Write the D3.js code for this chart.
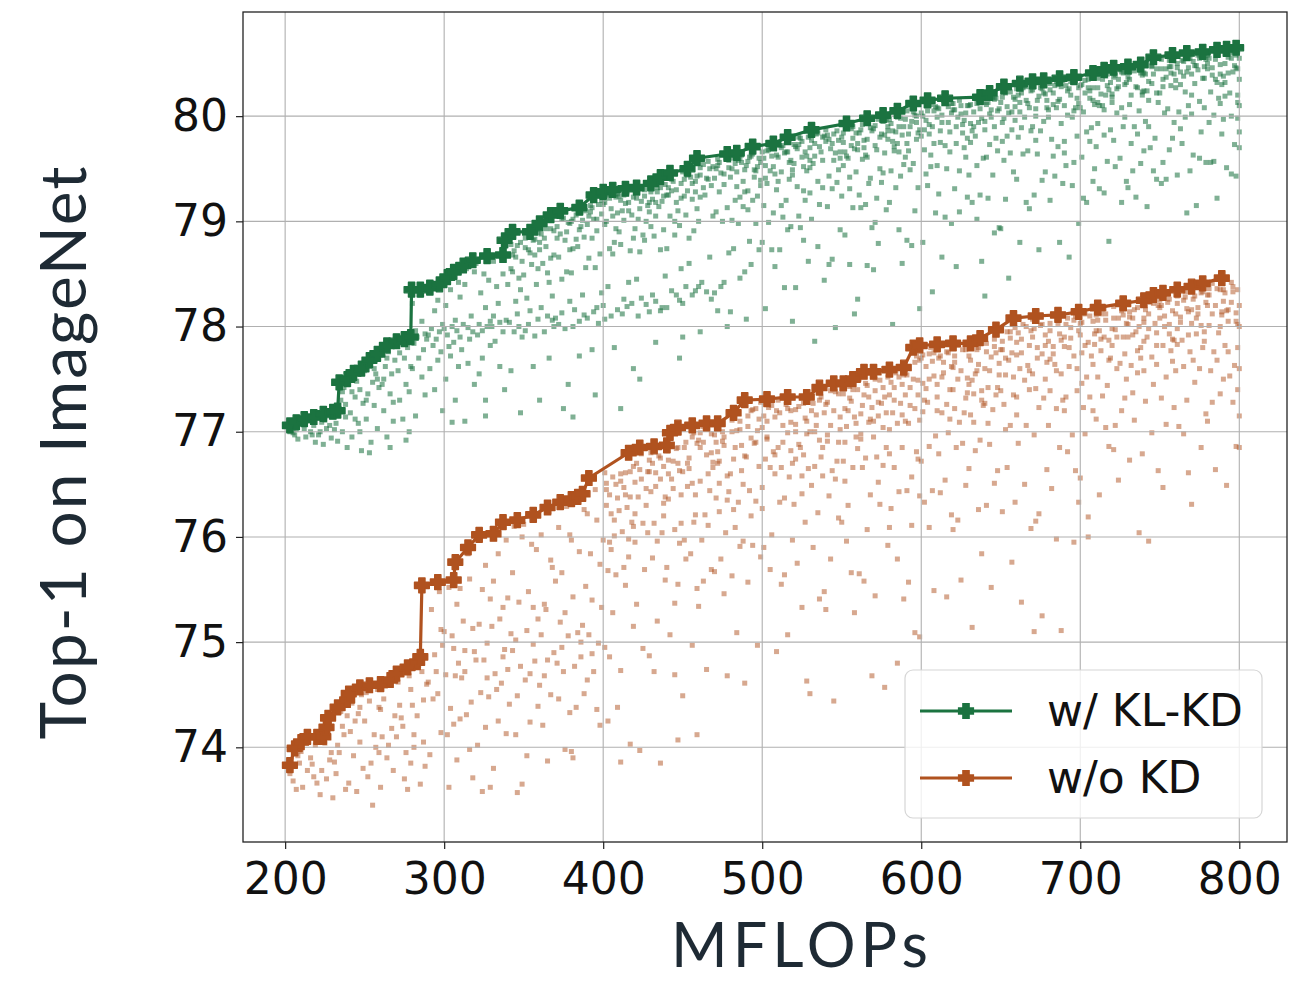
<!DOCTYPE html>
<html>
<head>
<meta charset="utf-8">
<script src="https://cdn.jsdelivr.net/npm/d3@7"></script>
<style>
  html, body { margin: 0; padding: 0; background: #ffffff; }
  svg { display: block; }
</style>
</head>
<body>
<svg id="chart" width="1300" height="981"></svg>
<script>
// ---- data -------------------------------------------------------------
const seriesNames = ["w/ KL-KD", "w/o KD"];
const xTicks = [200, 300, 400, 500, 600, 700, 800];
const yTicks = [74, 75, 76, 77, 78, 79, 80];
const xTitle = "MFLOPs";
const yTitle = "Top-1 on ImageNet";

// Pareto frontier, [MFLOPs, top-1]
const klkdFrontier = [
  [203,77.06],[207,77.09],[212,77.12],[218,77.14],[224,77.17],[230,77.19],[233,77.2],[234,77.47],[239,77.5],
  [243,77.56],[248,77.6],[253,77.68],[258,77.74],[264,77.82],[270,77.86],[275,77.88],[279,77.9],[279.5,78.35],
  [285,78.35],[291,78.37],[297,78.4],[302,78.47],[306,78.52],[312,78.58],[318,78.63],[327,78.67],[337,78.68],
  [338,78.82],[343,78.9],[354,78.9],[360,78.98],[367,79.06],[373,79.1],[385,79.13],[394,79.25],[400,79.28],
  [406,79.3],[414,79.31],[421,79.32],[430,79.36],[436,79.42],[442,79.46],[453,79.5],[459,79.6],[478,79.64],
  [484,79.65],[494,79.71],[507,79.74],[516,79.8],[531,79.87],[553,79.93],[566,79.98],[576,80.01],[585,80.05],
  [595,80.12],[604,80.15],[615,80.17],[637,80.18],[643,80.22],[652,80.28],[662,80.31],[670,80.33],[677,80.34],
  [687,80.36],[696,80.37],[708,80.41],[715,80.44],[721,80.46],[730,80.47],[738,80.49],[746,80.56],[758,80.58],
  [767,80.6],[777,80.61],[786,80.63],[792,80.64],[798,80.65]
];
const noKdFrontier = [
  [203,73.83],[206,73.99],[210,74.05],[214,74.1],[220,74.1],[224,74.1],[226,74.19],[227,74.28],[233,74.38],
  [239,74.45],[240,74.51],[247,74.57],[253,74.59],[260,74.6],[266,74.64],[270,74.7],[277,74.76],[283,74.81],
  [285,74.86],[286,75.54],[296,75.57],[306,75.59],[307,75.76],[315,75.9],[322,76.02],[331,76.03],[337,76.14],
  [346,76.16],[356,76.21],[365,76.28],[373,76.33],[380,76.36],[384,76.38],[387,76.41],[391,76.56],[416,76.8],
  [423,76.85],[432,76.86],[440,76.87],[442,76.99],[447,77.04],[456,77.06],[465,77.08],[472,77.08],[482,77.18],
  [489,77.3],[503,77.31],[516,77.33],[528,77.33],[536,77.42],[545,77.46],[551,77.46],[557,77.5],[564,77.57],
  [570,77.57],[580,77.59],[589,77.61],[595,77.8],[599,77.82],[610,77.83],[620,77.84],[631,77.84],[637,77.89],
  [647,77.97],[658,78.08],[672,78.1],[686,78.11],[699,78.14],[711,78.18],[727,78.22],[740,78.25],[746,78.3],
  [752,78.32],[761,78.35],[770,78.38],[777,78.41],[789,78.46]
];

// sampled sub-networks, [MFLOPs, top-1]
const klkdSamples = [
  [201,77.05],[203,77.0],[204,77.06],[206,76.97],[207,77.02],[208,76.93],[209,77.07],[205,76.99],
  [210,77.09],[212,77.03],[213,76.95],[215,77.1],[216,77.0],[218,77.06],[219,76.9],[214,77.12],[217,76.97],
  [220,77.13],[221,76.97],[223,77.09],[224,76.88],[226,77.03],[227,77.15],[229,76.94],[225,77.11],[228,77.06],[222,77.0],
  [230,77.17],[232,77.08],[233,76.91],[235,77.3],[236,77.0],[237,77.42],[238,77.14],[239,76.85],[234,77.22],[236,77.38],[231,77.02],[238,77.26],
  [240,77.45],[241,77.18],[242,76.95],[243,77.5],[244,77.33],[246,77.08],[247,77.4],[248,76.82],[249,77.27],[245,77.48],[247,77.0],[242,77.38],[244,77.12],
  [250,77.58],[251,77.12],[252,77.36],[253,77.62],[254,76.9],[255,77.47],[256,77.25],[257,77.55],[258,77.03],[259,77.42],[253,76.8],[256,77.6],[251,77.3],[258,77.5],
  [260,77.73],[261,77.45],[262,77.2],[263,77.62],[264,76.95],[265,77.76],[266,77.36],[267,77.55],[268,77.1],[269,77.68],[262,77.5],[266,76.85],[268,77.28],[264,77.7],
  [270,77.82],[271,77.58],[272,77.3],[273,77.86],[274,77.12],[275,77.7],[276,77.45],[277,77.8],[278,77.0],[279,77.62],[272,77.75],[276,76.92],[278,77.38],[274,77.84],
  [285,78.3],[280,78.22],[286,78.05],[282,77.96],[288,77.93],[283,77.9],[289,77.88],[281,77.84],[287,77.78],[284,77.7],[280,77.6],[286,77.52],[288,77.35],[282,77.15],
  [291,78.33],[296,78.25],[294,78.15],[299,78.02],[292,77.98],[297,77.95],[290,77.92],[295,77.88],[293,77.82],[298,77.76],[296,77.68],[291,77.6],[294,77.4],[299,77.2],
  [309,78.42],[304,78.35],[301,78.2],[307,78.06],[305,78.0],[300,77.98],[308,77.96],[302,77.92],[306,77.85],[303,77.81],[304,77.72],[309,77.62],[301,77.5],[307,77.3],[305,77.09],
  [314,78.55],[319,78.52],[313,78.4],[310,78.28],[317,78.1],[312,78.02],[315,77.99],[318,77.95],[310,77.9],[316,77.88],[311,77.78],[315,77.65],[319,77.45],[313,77.1],
  [320,78.6],[325,78.5],[328,78.44],[323,78.32],[326,78.18],[329,78.05],[322,78.02],[327,78.0],[324,77.96],[321,77.92],[329,77.82],[324,77.7],[322,77.55],[326,77.3],[326,77.15],
  [336,78.66],[331,78.62],[337,78.5],[338,78.78],[333,78.38],[334,78.22],[331,78.1],[339,78.06],[335,78.04],[330,78.0],[337,77.95],[332,77.86],[335,77.62],[338,77.4],
  [341,78.81],[346,78.77],[344,78.72],[349,78.62],[342,78.55],[347,78.46],[340,78.4],[345,78.24],[343,78.68],[348,78.35],[346,78.12],[341,78.04],[344,77.95],[349,77.9],[347,78.0],[342,77.58],[348,77.18],
  [359,78.89],[354,78.86],[351,78.75],[357,78.68],[355,78.59],[350,78.49],[358,78.4],[352,78.27],[356,78.82],[353,78.73],[354,78.15],[359,78.07],[351,77.96],[357,77.91],[353,78.02],[356,77.62],
  [364,78.93],[369,78.91],[363,78.84],[360,78.8],[367,78.65],[362,78.6],[365,78.51],[368,78.29],[360,78.73],[366,78.42],[361,78.18],[365,78.1],[369,78.0],[363,77.95],[368,78.06],[360,77.3],[366,77.7],
  [370,79.06],[375,79.03],[378,78.99],[373,78.88],[376,78.82],[379,78.73],[372,78.66],[377,78.52],[374,78.45],[371,78.84],[379,78.24],[374,78.13],[372,78.02],[376,77.98],[370,78.08],[378,77.45],[375,77.22],
  [386,79.08],[381,79.02],[387,79.01],[388,78.85],[383,78.83],[384,78.76],[381,78.74],[389,78.56],[385,78.92],[380,78.51],[387,78.3],[382,78.16],[385,78.05],[388,78.11],[381,78.0],[385,77.72],[381,77.14],
  [397,79.16],[392,79.15],[399,79.07],[394,79.02],[390,78.97],[396,78.91],[393,78.84],[398,78.69],[391,78.65],[395,78.56],[392,79.09],[399,78.32],[396,78.18],[390,78.08],[394,78.14],[397,78.03],[395,77.35],[393,77.78],
  [403,79.25],[408,79.23],[400,79.16],[405,79.12],[409,79.08],[401,78.97],[407,78.8],[404,78.74],[406,78.69],[402,79.0],[408,78.93],[403,78.38],[400,78.2],[405,78.1],[409,78.16],[401,78.07],[407,77.8],
  [415,79.28],[410,79.24],[416,79.18],[412,79.1],[418,79.06],[413,79.01],[419,78.84],[411,78.78],[417,78.72],[414,79.17],[410,78.9],[416,78.42],[418,78.22],[412,78.12],[415,78.19],[413,78.26],[411,77.22],[419,77.6],
  [421,79.28],[426,79.24],[424,79.19],[429,79.09],[422,79.02],[427,79.0],[420,78.93],[425,78.87],[423,78.71],[428,79.15],[426,78.82],[421,78.45],[424,78.27],[429,78.14],[427,78.21],[422,78.1],[423,77.5],
  [439,79.35],[434,79.32],[431,79.21],[437,79.19],[435,79.14],[430,78.95],[438,78.92],[432,78.86],[436,78.73],[433,79.05],[434,79.28],[439,78.48],[431,78.3],[437,78.18],[433,78.24],[436,78.15],[433,77.85],
  [444,79.38],[449,79.36],[443,79.29],[440,79.25],[447,79.1],[442,79.05],[445,79.0],[448,78.96],[440,78.74],[446,79.18],[441,79.32],[445,78.87],[449,78.55],[443,78.34],[448,78.25],[440,78.18],[446,78.3],[448,77.7],
  [450,79.47],[455,79.42],[458,79.38],[453,79.29],[456,79.21],[459,79.12],[452,79.06],[457,78.91],[454,78.84],[451,79.24],[459,79.43],[454,78.6],[452,78.38],[456,78.3],[450,78.22],[458,78.34],[450,77.9],
  [466,79.57],[461,79.51],[467,79.5],[468,79.34],[463,79.32],[464,79.25],[461,79.23],[469,79.05],[465,79.41],[460,79.0],[467,78.66],[462,78.42],[465,78.33],[468,78.26],[460,78.38],[461,77.95],
  [477,79.6],[472,79.59],[479,79.51],[474,79.46],[470,79.41],[476,79.35],[473,79.28],[478,79.13],[471,79.09],[475,79.0],[472,79.53],[479,78.7],[476,78.42],[470,78.32],[474,78.38],[478,78.0],[472,78.15],
  [487,79.63],[482,79.6],[489,79.49],[484,79.47],[480,79.42],[486,79.23],[483,79.2],[488,79.14],[481,79.01],[485,78.98],[482,78.74],[489,78.52],[486,78.46],[480,78.14],[484,79.33],[487,79.56],
  [493,79.62],[498,79.6],[490,79.53],[495,79.49],[499,79.34],[491,79.29],[497,79.24],[494,79.2],[496,78.98],[492,78.81],[498,78.73],[493,78.59],[490,78.07],[495,79.42],[499,79.56],[491,79.11],
  [505,79.71],[500,79.66],[506,79.62],[502,79.53],[508,79.45],[503,79.36],[509,79.3],[501,79.15],[507,79.08],[504,78.99],[500,78.8],[506,78.73],[508,78.57],[502,78.17],[505,79.48],[503,79.67],
  [511,79.72],[516,79.66],[514,79.65],[519,79.49],[512,79.47],[517,79.4],[510,79.38],[515,79.2],[513,79.04],[518,78.95],[516,78.92],[511,78.73],[514,78.37],[519,78.05],[517,79.56],[512,79.15],
  [529,79.8],[524,79.79],[521,79.71],[527,79.66],[525,79.61],[520,79.55],[528,79.48],[522,79.33],[526,79.29],[523,79.05],[524,78.94],[529,78.62],[521,78.37],[527,79.2],[523,79.73],[526,78.82],
  [534,79.83],[539,79.81],[533,79.74],[530,79.7],[537,79.66],[532,79.55],[535,79.38],[538,79.32],[530,79.27],[536,79.16],[531,79.02],[535,78.76],[539,78.44],[533,77.86],[538,79.58],[530,79.51],
  [540,79.87],[545,79.83],[548,79.77],[543,79.69],[546,79.65],[549,79.6],[542,79.43],[547,79.37],[544,79.31],[541,79.14],[549,78.92],[544,78.64],[542,78.59],[546,77.99],[540,79.76],[548,79.49],
  [556,79.88],[551,79.84],[557,79.79],[558,79.69],[553,79.62],[554,79.6],[551,79.53],[559,79.47],[555,79.31],[550,79.24],[557,79.13],[552,78.87],[555,78.59],[558,78.12],[551,79.75],[555,79.42],
  [567,79.93],[562,79.87],[569,79.86],[564,79.7],[560,79.68],[566,79.61],[563,79.59],[568,79.41],[561,79.25],[565,79.16],[562,79.13],[569,78.94],[566,78.58],[560,78.26],[564,79.77],[567,79.36],
  [573,79.97],[578,79.96],[570,79.88],[575,79.83],[579,79.78],[571,79.72],[577,79.65],[574,79.5],[576,79.46],[572,79.22],[578,79.11],[573,78.79],[570,78.54],[575,79.37],[579,79.9],[571,78.99],
  [585,79.99],[580,79.97],[586,79.9],[582,79.86],[588,79.82],[583,79.71],[589,79.54],[581,79.48],[587,79.43],[584,79.32],[580,79.18],[586,78.92],[588,78.6],[582,78.02],[585,79.74],[583,79.67],
  [591,80.05],[596,80.01],[594,79.95],[599,79.87],[592,79.83],[597,79.78],[590,79.61],[595,79.55],[593,79.49],[598,79.32],[596,79.1],[591,78.82],[594,78.77],[599,78.17],[597,79.94],[592,79.67],
  [609,80.09],[604,80.05],[601,80.0],[607,79.9],[605,79.83],[600,79.81],[608,79.74],[602,79.68],[606,79.52],[603,79.45],[604,79.34],[609,79.08],[601,78.8],[607,78.33],[603,79.96],[606,79.63],
  [614,80.15],[619,80.12],[613,80.01],[610,79.99],[617,79.94],[612,79.75],[615,79.72],[618,79.66],[610,79.53],[616,79.5],[611,79.26],[615,79.04],[619,78.98],[613,78.66],[618,79.85],[610,80.08],
  [620,80.12],[625,80.1],[628,80.03],[623,79.99],[626,79.84],[629,79.79],[622,79.74],[627,79.7],[624,79.48],[621,79.31],[629,79.23],[624,79.09],[622,78.57],[626,79.92],[620,80.06],[628,79.61],
  [636,80.16],[631,80.11],[637,80.07],[638,79.98],[633,79.9],[634,79.81],[631,79.75],[639,79.6],[635,79.53],[630,79.44],[637,79.25],[632,79.18],[635,79.02],[638,78.62],[631,79.93],[635,80.12],
  [647,80.17],[642,80.13],[649,80.07],[644,79.99],[640,79.95],[646,79.9],[643,79.73],[648,79.67],[641,79.61],[645,79.44],[642,79.22],[649,78.94],[646,78.89],[640,78.29],[644,80.06],[647,79.79],
  [653,80.22],[658,80.18],[650,80.13],[655,80.03],[659,79.96],[651,79.94],[657,79.87],[654,79.81],[656,79.65],[652,79.58],[658,79.47],[653,79.21],[650,78.93],[655,78.46],[659,80.09],[651,79.76],
  [665,80.29],[660,80.26],[666,80.15],[662,80.13],[668,80.08],[663,79.89],[669,79.86],[661,79.8],[667,79.67],[664,79.64],[660,79.4],[666,79.18],[668,79.12],[662,78.8],[665,79.99],[663,80.22],
  [671,80.28],[676,80.26],[674,80.19],[679,80.15],[672,80.0],[677,79.95],[670,79.9],[675,79.86],[673,79.64],[678,79.47],[676,79.39],[671,79.25],[674,78.73],[679,80.08],[677,80.22],[672,79.77],
  [689,80.34],[684,80.29],[681,80.25],[687,80.16],[685,80.08],[680,79.99],[688,79.93],[682,79.78],[686,79.71],[683,79.62],[684,79.43],[689,79.36],[681,79.2],[687,78.8],[683,80.11],[686,80.3],
  [694,80.33],[699,80.27],[693,80.26],[690,80.1],[697,80.08],[692,80.01],[695,79.99],[698,79.81],[690,79.65],[696,79.56],[691,79.53],[695,79.34],[699,78.98],[693,78.66],[698,80.17],[690,79.76],
  [700,80.36],[705,80.35],[708,80.27],[703,80.22],[706,80.17],[709,80.11],[702,80.04],[707,79.89],[704,79.85],[701,79.61],[709,79.5],[704,79.18],[702,79.22],[706,79.76],[700,80.29],[708,79.38],
  [716,80.38],[711,80.36],[717,80.29],[718,80.25],[713,80.21],[714,80.1],[711,79.93],[719,79.87],[715,79.82],[710,79.71],[717,79.57],[712,79.31],[715,79.27],[718,78.81],[711,80.13],[715,80.06],
  [727,80.41],[722,80.39],[729,80.32],[724,80.28],[720,80.13],[726,80.08],[723,80.03],[728,79.99],[721,79.77],[725,79.6],[722,79.52],[729,79.38],[726,79.18],[720,80.21],[724,80.35],[727,79.9],
  [733,80.46],[738,80.41],[730,80.37],[735,80.28],[739,80.2],[731,80.11],[737,80.05],[734,79.9],[736,79.83],[732,79.74],[738,79.55],[733,79.48],[730,79.32],[735,79.23],[739,80.23],[731,80.42],
  [745,80.47],[740,80.41],[746,80.4],[742,80.24],[748,80.22],[743,80.15],[749,80.13],[741,79.95],[747,79.79],[744,79.7],[740,79.67],[746,79.48],[748,79.4],[742,79.14],[745,80.31],[743,79.9],
  [751,80.54],[756,80.53],[754,80.45],[759,80.4],[752,80.35],[757,80.29],[750,80.22],[755,80.07],[753,80.03],[758,79.79],[756,79.68],[751,79.36],[754,79.4],[759,79.94],[757,80.47],[752,79.56],
  [769,80.55],[764,80.53],[761,80.46],[767,80.42],[765,80.38],[760,80.27],[768,80.1],[762,80.04],[766,79.99],[763,79.88],[764,79.74],[769,79.48],[761,79.44],[767,79.08],[763,80.3],[766,80.23],
  [774,80.58],[779,80.54],[773,80.48],[770,80.4],[777,80.36],[772,80.31],[775,80.14],[778,80.08],[770,80.02],[776,79.85],[771,79.63],[775,79.6],[779,79.56],[773,79.15],[778,80.47],[770,80.2],
  [780,80.58],[785,80.54],[788,80.49],[783,80.39],[786,80.32],[789,80.3],[782,80.23],[787,80.17],[784,80.01],[781,79.94],[789,79.83],[784,79.57],[782,79.56],[786,79.22],[780,80.45],[788,80.12],
  [796,80.62],[791,80.59],[797,80.48],[798,80.46],[793,80.41],[794,80.22],[791,80.19],[799,80.13],[795,80.0],[790,79.97],[797,79.73],[792,79.51],[795,79.45],[798,79.43],[791,80.32],[795,80.55],
  [799,80.45],[799,80.2],[799,79.98],[800,80.55],[800,80.35],[800,80.1],[800,79.85],[799,80.62],[800,79.7],
  // denser band just under the frontier
  [342,78.78],[345,78.66],[348,78.8],[343,78.52],[351,78.84],[354,78.7],[357,78.83],[359,78.55],
  [361,78.88],[364,78.76],[367,78.93],[369,78.68],[371,78.95],[374,79.02],[377,78.9],[379,78.98],
  [380,79.0],[383,79.06],[386,78.95],[389,79.1],[391,79.05],[393,79.13],[396,79.02],[399,79.2],
  [401,79.18],[404,79.22],[406,79.05],[409,79.26],[411,79.2],[413,79.25],[416,79.1],[419,79.23],
  [421,79.22],[423,79.12],[426,79.3],[429,79.18],[430,79.28],[433,79.18],[436,79.32],[438,79.24],
  [441,79.25],[443,79.4],[446,79.3],[449,79.22],[451,79.4],[453,79.44],[456,79.36],[458,79.28],
  [461,79.44],[463,79.54],[466,79.4],[469,79.52],[471,79.5],[473,79.56],[476,79.45],[479,79.58],
  [481,79.5],[485,79.58],[488,79.38],[483,79.55],[489,79.28],[486,79.6],
  [492,79.61],[496,79.48],[491,79.57],[499,79.39],[494,79.64],[497,79.52],
  [501,79.6],[504,79.68],[507,79.52],[509,79.63],[502,79.41],[506,79.7],
  [510,79.61],[513,79.72],[518,79.58],[515,79.66],[519,79.44],[512,79.7],
  [522,79.69],[525,79.76],[528,79.62],[520,79.73],[526,79.52],[523,79.8],
  [531,79.77],[536,79.71],[533,79.62],[538,79.8],[530,79.58],[535,79.84],
  [541,79.82],[544,79.74],[547,79.86],[549,79.66],[542,79.78],[545,79.58],
  [550,79.8],[553,79.88],[556,79.72],[559,79.84],[552,79.66],[557,79.9],
  [561,79.84],[563,79.92],[566,79.78],[568,79.89],[560,79.74],[565,79.63],
  [571,79.91],[574,79.8],[576,79.95],[579,79.86],[572,79.68],[577,79.82],
  [581,79.93],[584,79.85],[587,79.98],[589,79.9],[582,79.76],[586,79.66],
  [590,79.97],[593,79.9],[595,80.04],[598,79.84],[591,79.74],[597,80.0],
  [600,80.03],[603,80.1],[605,79.92],[608,80.05],[602,79.87],[606,80.11],
  [611,80.07],[613,79.94],[616,80.12],[619,80.03],[612,79.86],[617,80.09],
  [621,80.06],[624,80.15],[627,79.96],[629,80.1],[622,79.9],[625,80.02],
  [630,80.1],[633,80.04],[636,79.94],[639,80.13],[632,79.86],[637,80.15],
  [641,80.11],[643,80.02],[646,80.16],[648,80.05],[640,79.87],[645,80.18],
  [651,80.18],[654,80.09],[656,80.23],[659,80.16],[652,79.98],[657,80.04],
  [661,80.2],[664,80.27],[667,80.12],[669,80.24],[662,80.04],[666,80.28],
  [670,80.25],[673,80.15],[676,80.3],[678,80.21],[672,80.07],[675,80.27],
  [681,80.31],[683,80.22],[686,80.14],[688,80.28],[680,80.06],[685,80.33],
  [691,80.29],[694,80.2],[697,80.34],[699,80.12],[692,80.24],[696,80.05],
  [701,80.3],[703,80.34],[706,80.24],[708,80.15],[700,80.08],[705,80.27],
  [711,80.27],[714,80.35],[716,80.2],[719,80.32],[712,80.1],[717,80.4],
  [721,80.37],[723,80.26],[726,80.42],[728,80.3],[720,80.18],[725,80.44],
  [731,80.35],[734,80.43],[736,80.27],[739,80.39],[732,80.2],[737,80.45],
  [741,80.4],[743,80.33],[746,80.52],[748,80.45],[740,80.24],[745,80.48],
  [751,80.45],[754,80.37],[756,80.47],[758,80.53],[752,80.28],[757,80.41],
  [761,80.5],[763,80.42],[766,80.55],[768,80.46],[760,80.34],[765,80.52],
  [771,80.52],[774,80.44],[776,80.57],[778,80.36],[772,80.48],[775,80.55],
  [781,80.55],[783,80.46],[786,80.58],[788,80.4],[780,80.5],[785,80.35],
  [791,80.5],[793,80.56],[796,80.42],[798,80.58],[790,80.38],[795,80.6]
];
const noKdSamples = [
  [203,73.75],[208,73.92],[205,73.68],[209,73.85],[206,73.96],[207,73.6],
  [214,73.78],[219,74.02],[211,73.62],[216,73.9],[213,74.05],[218,73.72],[210,73.96],[217,73.84],
  [225,74.04],[220,73.66],[228,73.88],[222,73.55],[227,74.15],[223,73.78],[229,73.95],[221,74.08],[226,73.7],
  [236,74.2],[231,73.86],[238,73.6],[233,74.02],[239,74.3],[232,73.75],[237,74.12],[234,73.95],[235,74.34],[230,73.52],
  [244,74.25],[249,73.8],[242,74.42],[247,74.05],[240,73.66],[246,74.32],[243,73.92],[248,74.5],[241,74.15],[245,73.58],[247,74.38],
  [259,74.38],[254,73.85],[251,74.52],[257,74.0],[255,73.45],[250,74.25],[258,74.55],[252,73.72],[256,74.12],[253,74.44],[259,73.95],
  [264,73.9],[269,74.3],[263,74.58],[260,73.62],[267,74.18],[262,74.46],[265,74.02],[268,73.78],[260,74.36],[266,74.6],[261,74.1],
  [270,74.1],[275,73.7],[278,74.68],[273,74.28],[276,73.95],[279,74.55],[272,74.4],[277,73.6],[274,74.2],[271,74.62],[279,73.85],
  [286,74.72],[281,74.0],[287,74.45],[288,73.82],[283,74.3],[284,74.78],[281,74.12],[289,74.6],[285,73.65],[280,74.4],[287,74.05],
  [297,75.48],[292,75.31],[299,74.97],[294,74.88],[290,74.62],[296,74.51],[293,74.46],[298,74.14],[291,73.93],[295,74.72],[298,75.12],
  [303,75.52],[308,75.36],[300,75.1],[305,75.06],[309,74.8],[301,74.69],[307,74.68],[304,74.37],[306,74.22],[302,74.12],[308,73.88],[303,73.62],[306,74.94],
  [315,75.84],[310,75.51],[316,75.6],[312,75.2],[318,75.13],[313,74.92],[319,74.91],[311,74.66],[317,74.43],[314,74.31],[310,74.27],[316,73.98],[318,73.71],[313,74.72],
  [321,75.98],[326,75.73],[324,75.5],[329,75.41],[322,75.17],[327,74.99],[320,74.83],[325,74.83],[323,74.52],[328,74.48],[326,74.19],[321,74.02],[324,73.58],[329,73.62],[327,74.66],
  [339,75.97],[334,75.84],[331,75.58],[337,75.33],[335,75.22],[330,75.15],[338,74.93],[332,74.7],[336,74.61],[333,74.55],[334,74.25],[339,74.13],[331,73.8],[337,74.86],
  [344,76.1],[349,76.0],[343,75.66],[340,75.42],[347,75.38],[342,75.08],[345,75.02],[348,74.77],[340,74.74],[346,74.49],[341,74.41],[345,74.12],[349,73.65],[346,73.57],[343,74.92],
  [350,76.12],[355,75.93],[358,75.88],[353,75.48],[356,75.33],[359,75.22],[352,75.11],[357,74.82],[354,74.7],[351,74.64],[359,74.39],[354,74.24],[352,73.92],[356,74.98],
  [366,76.24],[361,76.02],[367,75.78],[368,75.71],[363,75.36],[364,75.31],[361,75.07],[369,74.9],[365,74.83],[360,74.59],[367,74.5],[362,74.21],[365,73.87],[363,74.68],
  [377,76.29],[372,76.09],[379,76.02],[374,75.66],[370,75.58],[376,75.28],[373,75.19],[378,75.06],[371,74.8],[375,74.72],[372,74.46],[379,74.33],[376,73.98],[374,74.95],
  [383,76.33],[388,76.26],[380,75.97],[385,75.86],[389,75.53],[381,75.43],[387,75.16],[384,75.09],[386,74.86],[382,74.77],[388,74.51],[383,74.38],[380,73.96],[381,73.9],[386,75.0],
  [395,76.45],[390,76.22],[396,76.16],[392,75.84],[398,75.74],[393,75.4],[399,75.33],[391,75.07],[397,74.99],[394,74.72],[390,74.64],[396,74.36],[398,74.21],[393,74.89],
  [401,76.61],[406,76.57],[404,76.4],[409,76.37],[402,76.3],[407,76.01],[400,75.97],[405,75.88],[403,75.68],[408,75.64],[406,75.28],[401,74.95],[404,74.86],[409,74.38],[407,76.16],[402,76.51],[403,74.25],
  [419,76.67],[414,76.61],[411,76.53],[417,76.38],[415,76.28],[410,76.25],[418,76.14],[412,76.05],[416,75.81],[413,75.71],[414,75.54],[419,75.15],[411,74.73],[417,74.03],[413,76.47],[416,75.98],[411,73.86],
  [424,76.79],[429,76.73],[423,76.64],[420,76.52],[427,76.46],[422,76.38],[425,76.13],[428,76.04],[420,75.95],[426,75.69],[421,75.36],[425,74.94],[429,74.87],[423,73.97],[428,76.62],[420,76.22],
  [430,76.8],[435,76.77],[438,76.67],[433,76.61],[436,76.55],[439,76.38],[432,76.13],[437,76.04],[434,75.96],[431,75.8],[439,75.59],[434,75.2],[432,74.72],[436,73.85],[430,76.43],[438,76.32],
  [446,76.84],[441,76.82],[447,76.7],[448,76.63],[443,76.55],[444,76.46],[441,76.36],[449,76.13],[445,76.07],[440,75.71],[447,75.55],[442,75.07],[445,74.69],[448,75.94],[441,76.73],[445,75.37],[447,74.07],
  [457,76.99],[452,76.9],[459,76.89],[454,76.65],[450,76.62],[456,76.51],[453,76.48],[458,76.21],[451,75.97],[455,75.84],[452,75.79],[459,75.51],[456,74.97],[450,74.49],[454,76.75],[457,76.14],[459,74.12],
  [463,77.05],[468,76.98],[460,76.92],[465,76.78],[469,76.66],[461,76.53],[467,76.44],[464,76.21],[466,76.11],[462,75.97],[468,75.69],[463,75.58],[460,75.34],[465,74.74],[469,76.71],[461,76.99],
  [475,77.0],[470,76.97],[476,76.87],[472,76.81],[478,76.58],[473,76.51],[479,76.43],[471,76.37],[477,76.04],[474,75.79],[470,75.67],[476,75.46],[478,74.68],[472,76.7],[475,76.91],[473,76.24],
  [481,77.11],[486,77.02],[484,77.01],[489,76.77],[482,76.74],[487,76.63],[480,76.6],[485,76.33],[483,76.09],[488,75.96],[486,75.91],[481,75.63],[484,75.09],[489,74.61],[487,76.87],[482,76.26],
  [499,77.28],[494,77.21],[491,77.15],[497,77.01],[495,76.89],[490,76.76],[498,76.67],[492,76.44],[496,76.34],[493,76.2],[494,75.92],[499,75.81],[491,75.57],[497,74.97],[493,76.94],[496,77.22],
  [504,77.23],[509,77.2],[503,77.1],[500,77.04],[507,76.81],[502,76.74],[505,76.66],[508,76.6],[500,76.27],[506,76.02],[501,75.9],[505,75.69],[509,74.91],[503,76.93],[508,77.14],[500,76.47],
  [510,77.3],[515,77.26],[518,77.09],[513,77.06],[516,76.99],[519,76.7],[512,76.66],[517,76.57],[514,76.37],[511,76.33],[519,75.97],[514,75.64],[512,75.55],[516,75.07],[510,76.85],[518,77.2],
  [526,77.27],[521,77.21],[527,77.13],[528,76.98],[523,76.88],[524,76.85],[521,76.74],[529,76.65],[525,76.41],[520,76.31],[527,76.14],[522,75.75],[525,75.33],[528,74.63],[521,77.07],[525,76.58],
  [537,77.33],[532,77.27],[539,77.18],[534,77.06],[530,77.0],[536,76.92],[533,76.67],[538,76.58],[531,76.49],[535,76.23],[532,75.9],[539,75.48],[536,75.41],[530,74.51],[534,77.16],[537,76.76],
  [543,77.39],[548,77.36],[540,77.26],[545,77.2],[549,77.14],[541,76.97],[547,76.72],[544,76.63],[546,76.55],[542,76.39],[548,76.18],[543,75.79],[540,75.31],[545,74.44],[549,77.02],[541,76.91],
  [555,77.43],[550,77.41],[556,77.29],[552,77.22],[558,77.14],[553,77.05],[559,76.95],[551,76.72],[557,76.66],[554,76.3],[550,76.14],[556,75.66],[558,75.28],[552,76.53],[555,77.32],[553,75.96],
  [561,77.5],[566,77.44],[564,77.35],[569,77.23],[562,77.17],[567,77.09],[560,76.84],[565,76.75],[563,76.66],[568,76.4],[566,76.07],[561,75.65],[564,75.58],[569,74.68],[567,77.33],[562,76.93],
  [579,77.52],[574,77.49],[571,77.39],[577,77.33],[575,77.27],[570,77.1],[578,76.85],[572,76.76],[576,76.68],[573,76.52],[574,76.31],[579,75.92],[571,75.44],[577,74.57],[573,77.15],[576,77.04],
  [584,77.56],[589,77.54],[583,77.42],[580,77.35],[587,77.27],[582,77.18],[585,77.08],[588,76.85],[580,76.79],[586,76.43],[581,76.27],[585,75.79],[589,75.41],[583,76.66],[588,77.45],[580,76.09],[585,74.8],
  [590,77.59],[595,77.5],[598,77.49],[593,77.25],[596,77.22],[599,77.11],[592,77.08],[597,76.81],[594,76.57],[591,76.44],[599,76.39],[594,76.11],[592,75.57],[596,75.09],[590,77.35],[598,76.74],[597,77.72],[599,77.68],
  [606,77.8],[601,77.73],[607,77.67],[608,77.53],[603,77.41],[604,77.28],[601,77.19],[609,76.96],[605,76.86],[600,76.72],[607,76.44],[602,76.33],[605,76.09],[608,75.49],[601,77.46],[605,77.74],[599,75.05],
  [617,77.75],[612,77.72],[619,77.62],[614,77.56],[610,77.33],[616,77.26],[613,77.18],[618,77.12],[611,76.79],[615,76.54],[612,76.42],[619,76.21],[616,75.43],[610,77.45],[614,77.66],[617,76.99],
  [623,77.82],[628,77.78],[620,77.61],[625,77.58],[629,77.51],[621,77.22],[627,77.18],[624,77.09],[626,76.89],[622,76.85],[628,76.49],[623,76.16],[620,76.07],[625,75.59],[629,77.37],[621,77.72],
  [635,77.78],[630,77.72],[636,77.64],[632,77.49],[638,77.39],[633,77.36],[639,77.25],[631,77.16],[637,76.92],[634,76.82],[630,76.65],[636,76.26],[638,75.84],[632,75.14],[635,77.58],[633,77.09],
  [641,77.84],[646,77.81],[644,77.71],[649,77.65],[642,77.42],[647,77.35],[640,77.27],[645,77.21],[643,76.88],[648,76.63],[646,76.51],[641,76.3],[644,75.52],[649,77.54],[647,77.75],[642,77.08],
  [659,77.99],[654,77.95],[651,77.78],[657,77.75],[655,77.68],[650,77.39],[658,77.35],[652,77.26],[656,77.06],[653,77.02],[654,76.66],[659,76.33],[651,76.24],[657,75.76],[653,77.54],[656,77.89],
  [664,78.02],[669,77.96],[663,77.88],[660,77.73],[667,77.63],[662,77.6],[665,77.49],[668,77.4],[660,77.16],[666,77.06],[661,76.89],[665,76.5],[669,76.08],[663,75.38],[668,77.82],[660,77.33],
  [670,78.07],[675,78.01],[678,77.92],[673,77.8],[676,77.74],[679,77.66],[672,77.41],[677,77.32],[674,77.23],[671,76.97],[679,76.64],[674,76.22],[672,76.15],[676,75.25],[670,77.9],[678,77.5],[671,75.1],
  [686,78.06],[681,78.03],[687,77.93],[688,77.87],[683,77.81],[684,77.64],[681,77.39],[689,77.3],[685,77.22],[680,77.06],[687,76.85],[682,76.46],[685,75.98],[688,75.11],[681,77.69],[685,77.58],
  [697,78.1],[692,78.08],[699,77.96],[694,77.89],[690,77.81],[696,77.72],[693,77.62],[698,77.39],[691,77.33],[695,76.97],[692,76.81],[699,76.33],[696,75.95],[690,77.2],[694,77.99],[697,76.63],
  [703,78.12],[708,78.05],[700,78.03],[705,77.85],[709,77.83],[701,77.75],[707,77.72],[704,77.52],[706,77.33],[702,77.23],[708,77.2],[703,76.98],[700,76.56],[705,76.19],[709,77.93],[701,77.46],[705,76.0],
  [715,78.17],[710,78.11],[716,78.06],[712,77.96],[718,77.87],[713,77.77],[719,77.7],[711,77.52],[717,77.44],[714,77.34],[710,77.12],[716,77.04],[718,76.86],[712,76.4],[715,77.9],[713,78.12],
  [721,78.19],[726,78.18],[724,78.08],[729,78.03],[722,77.97],[727,77.9],[720,77.82],[725,77.65],[723,77.6],[728,77.32],[726,77.2],[721,76.83],[724,76.54],[729,77.5],[727,78.11],[722,77.06],
  [739,78.21],[734,78.16],[731,78.09],[737,78.0],[735,77.95],[730,77.9],[738,77.7],[732,77.63],[736,77.56],[733,77.37],[734,77.11],[739,76.79],[731,76.73],[737,76.04],[733,78.08],[736,77.77],
  [744,78.23],[749,78.2],[743,78.12],[740,78.08],[747,78.03],[742,77.9],[745,77.71],[748,77.64],[740,77.58],[746,77.45],[741,77.29],[745,76.99],[749,76.63],[743,75.96],[748,77.94],[740,77.86],
  [750,78.25],[755,78.23],[758,78.15],[753,78.1],[756,77.93],[759,77.87],[752,77.82],[757,77.77],[754,77.52],[751,77.32],[759,77.23],[754,77.07],[752,76.47],[756,78.02],[750,78.18],[758,77.67],
  [766,78.33],[761,78.29],[767,78.17],[768,78.14],[763,78.09],[764,77.87],[761,77.83],[769,77.76],[765,77.62],[760,77.58],[767,77.3],[762,77.05],[765,76.98],[768,76.61],[761,77.98],[765,78.25],
  [777,78.33],[772,78.29],[779,78.23],[774,78.12],[770,78.03],[776,78.01],[773,77.93],[778,77.86],[771,77.68],[775,77.6],[772,77.47],[779,77.17],[776,76.85],[770,76.31],[774,78.18],[777,77.8],
  [783,78.41],[788,78.35],[780,78.3],[785,78.2],[789,78.11],[781,78.01],[787,77.94],[784,77.76],[786,77.68],[782,77.58],[788,77.36],[783,77.28],[780,77.1],[785,76.64],[789,78.14],[781,78.36],
  [795,78.42],[790,78.35],[796,78.33],[792,78.15],[798,78.13],[793,78.05],[799,78.02],[791,77.82],[797,77.63],[794,77.53],[790,77.5],[796,77.28],[798,76.86],[792,76.49],[795,78.23],[793,77.76],
  [799,78.35],[800,78.2],[800,78.0],[799,77.8],[800,77.6],[799,77.4],[800,77.15],[800,76.85],
  // denser band just under the frontier
  [402,76.45],[405,76.22],[408,76.5],[404,75.95],[411,76.6],[414,76.4],[417,76.62],[419,76.1],
  [421,76.7],[424,76.55],[427,76.3],[429,76.62],[431,76.7],[433,76.48],[436,76.75],[438,76.2],
  [441,76.6],[444,76.72],[447,76.85],[449,76.4],[451,76.85],[453,76.7],[456,76.95],[458,76.4],
  [461,76.85],[463,76.9],[466,76.6],[468,76.8],[471,76.9],[473,76.72],[476,76.95],[478,76.35],
  [481,77.0],[483,76.85],[486,77.1],[488,76.5],[491,77.05],[493,77.2],[496,76.9],[498,77.12],
  [501,77.15],[503,76.95],[506,77.25],[508,76.78],[511,77.18],[513,76.9],[516,77.22],[518,76.82],
  [521,77.0],[523,77.24],[526,76.78],[528,77.1],[531,77.2],[533,77.0],[536,77.3],[538,76.85],
  [541,77.28],[543,77.06],[546,77.38],[548,76.9],
  [551,77.36],[554,77.2],[557,77.4],[559,77.08],[552,76.9],[560,77.4],[563,77.25],[565,77.46],[568,77.12],[562,76.98],
  [571,77.5],[573,77.28],[576,77.42],[578,77.18],[570,76.95],[581,77.47],[583,77.3],[586,77.52],[588,77.16],[580,77.02],
  [591,77.54],[593,77.42],[596,77.66],[598,77.35],[590,77.1],[600,77.7],[603,77.62],[605,77.5],[608,77.75],[602,77.3],
  [611,77.7],[613,77.52],[616,77.76],[618,77.4],[610,77.2],[621,77.66],[623,77.5],[626,77.78],[628,77.32],[620,77.4],
  [631,77.68],[634,77.55],[636,77.8],[638,77.3],[630,77.45],[641,77.76],[643,77.58],[646,77.88],[648,77.42],[640,77.6],
  [651,77.86],[653,77.7],[656,77.95],[658,77.52],[650,77.78],[661,77.94],[663,77.75],[666,78.0],[668,77.58],[660,77.85],
  [671,77.98],[673,77.7],[676,78.02],[678,77.82],[670,77.55],[681,77.96],[683,77.74],[686,78.03],[688,77.55],[680,77.86],
  [691,78.02],[693,77.8],[696,78.06],[698,77.6],[690,77.9],[701,78.04],[703,77.82],[706,78.1],[708,77.64],[700,77.92],
  [711,78.06],[713,77.88],[716,78.12],[718,77.68],[710,77.96],[721,78.08],[723,77.9],[726,78.15],[728,77.74],[720,77.98],
  [731,78.14],[733,77.92],[736,78.18],[738,77.8],[730,78.02],[741,78.16],[743,77.98],[746,78.22],[748,77.82],[740,78.04],
  [751,78.2],[753,78.0],[756,78.26],[758,77.88],[750,78.08],[761,78.22],[763,78.04],[766,78.28],[768,77.92],[760,78.12],
  [771,78.26],[773,78.08],[776,78.32],[778,77.95],[770,78.16],[781,78.3],[783,78.12],[786,78.36],[788,78.0],[780,78.2],
  [791,78.32],[793,78.16],[796,78.38],[798,78.05],[790,78.24]
];

// ---- layout -----------------------------------------------------------
const plot = { left: 243, right: 1287, top: 12, bottom: 842 };
const colors = { klkd: "#1b7340", nokd: "#b0521f" };
const tickFont = "'DejaVu Sans', sans-serif";
const titleFont = "Lato, 'Open Sans', sans-serif";

const svg = d3.select("#chart");

const x = d3.scaleLinear().domain([173.5, 830]).range([plot.left, plot.right]);
const y = d3.scaleLinear().domain([73.1, 80.99]).range([plot.bottom, plot.top]);

svg.append("defs").append("clipPath").attr("id", "plot-clip")
  .append("rect")
  .attr("x", plot.left).attr("y", plot.top)
  .attr("width", plot.right - plot.left).attr("height", plot.bottom - plot.top);

// sampled points (small square markers)
const dot = 5;
const scatter = svg.append("g").attr("clip-path", "url(#plot-clip)");
function drawSamples(data, color, alpha) {
  scatter.append("g").selectAll("rect").data(data).join("rect")
    .attr("x", d => x(d[0]) - dot / 2)
    .attr("y", d => y(d[1]) - dot / 2)
    .attr("width", dot).attr("height", dot)
    .attr("fill", color).attr("fill-opacity", alpha);
}
drawSamples(noKdSamples, colors.nokd, 0.5);
drawSamples(klkdSamples, colors.klkd, 0.56);

// grid (over the scatter, under the frontier lines)
const grid = svg.append("g").attr("stroke", "#b0b0b0").attr("stroke-width", 1.1);
grid.selectAll("line.gx").data(xTicks).join("line").attr("class", "gx")
  .attr("x1", d => x(d)).attr("x2", d => x(d))
  .attr("y1", plot.top).attr("y2", plot.bottom);
grid.selectAll("line.gy").data(yTicks).join("line").attr("class", "gy")
  .attr("y1", d => y(d)).attr("y2", d => y(d))
  .attr("x1", plot.left).attr("x2", plot.right);

// filled plus marker; size is the half-width in px
const plusFilled = {
  draw(ctx, h) {
    const w = h * 0.42;
    ctx.moveTo(-w, -h); ctx.lineTo(w, -h); ctx.lineTo(w, -w); ctx.lineTo(h, -w);
    ctx.lineTo(h, w); ctx.lineTo(w, w); ctx.lineTo(w, h); ctx.lineTo(-w, h);
    ctx.lineTo(-w, w); ctx.lineTo(-h, w); ctx.lineTo(-h, -w); ctx.lineTo(-w, -w);
    ctx.closePath();
  }
};
const marker = d3.symbol(plusFilled, 7.4);

// frontier lines with markers
const line = d3.line().x(d => x(d[0])).y(d => y(d[1]));
function drawFrontier(data, color) {
  const g = svg.append("g").attr("clip-path", "url(#plot-clip)");
  g.append("path").datum(data)
    .attr("d", line).attr("fill", "none")
    .attr("stroke", color).attr("stroke-width", 3.2).attr("stroke-linejoin", "round");
  g.selectAll("path.mk").data(data).join("path").attr("class", "mk")
    .attr("transform", d => `translate(${x(d[0])},${y(d[1])})`)
    .attr("d", marker).attr("fill", color)
    .attr("stroke", color).attr("stroke-width", 1.4).attr("stroke-linejoin", "round");
}
drawFrontier(noKdFrontier, colors.nokd);
drawFrontier(klkdFrontier, colors.klkd);

// axes
const xAxis = svg.append("g").attr("transform", `translate(0,${plot.bottom})`)
  .call(d3.axisBottom(x).tickValues(xTicks).tickFormat(d3.format("d")).tickSize(7).tickPadding(14));
const yAxis = svg.append("g").attr("transform", `translate(${plot.left},0)`)
  .call(d3.axisLeft(y).tickValues(yTicks).tickFormat(d3.format("d")).tickSize(7).tickPadding(8));
[xAxis, yAxis].forEach(a => {
  a.select(".domain").remove();
  a.selectAll(".tick line").attr("stroke", "#222").attr("stroke-width", 1.2);
  a.selectAll(".tick text").attr("font-family", tickFont).attr("font-size", 44).attr("fill", "#111");
});

// frame
svg.append("rect")
  .attr("x", plot.left).attr("y", plot.top)
  .attr("width", plot.right - plot.left).attr("height", plot.bottom - plot.top)
  .attr("fill", "none").attr("stroke", "#222").attr("stroke-width", 1.3);

// axis titles: fixed size, letter-spacing opened up to the wanted span
function spreadTitle(sel, targetLen) {
  const n = sel.text().length;
  const len = sel.node().getComputedTextLength();
  sel.attr("letter-spacing", Math.max(0, (targetLen - len) / n));
}
const xt = svg.append("text")
  .attr("x", 802).attr("y", 967).attr("text-anchor", "middle")
  .attr("font-family", titleFont).attr("font-size", 61).attr("fill", "#1e2a34")
  .text(xTitle);
spreadTitle(xt, 262);
const yt = svg.append("text")
  .attr("transform", "translate(86,452) rotate(-90)").attr("text-anchor", "middle")
  .attr("font-family", titleFont).attr("font-size", 64).attr("fill", "#1e2a34")
  .text(yTitle);
spreadTitle(yt, 575);

// legend
const legend = svg.append("g");
legend.append("rect")
  .attr("x", 905).attr("y", 670).attr("width", 357).attr("height", 148).attr("rx", 8)
  .attr("fill", "#ffffff").attr("fill-opacity", 0.8)
  .attr("stroke", "#d6d6d6").attr("stroke-width", 1.2);
const legendItems = [
  { name: seriesNames[0], color: colors.klkd, y: 711 },
  { name: seriesNames[1], color: colors.nokd, y: 778 }
];
legendItems.forEach(it => {
  legend.append("line").attr("x1", 920).attr("x2", 1012).attr("y1", it.y).attr("y2", it.y)
    .attr("stroke", it.color).attr("stroke-width", 3.2);
  legend.append("path").attr("transform", `translate(966,${it.y})`)
    .attr("d", marker).attr("fill", it.color).attr("stroke", it.color).attr("stroke-width", 1.4);
  legend.append("text").attr("x", 1047).attr("y", it.y + 15)
    .attr("font-family", tickFont).attr("font-size", 44).attr("fill", "#111")
    .text(it.name);
});
</script>
</body>
</html>
